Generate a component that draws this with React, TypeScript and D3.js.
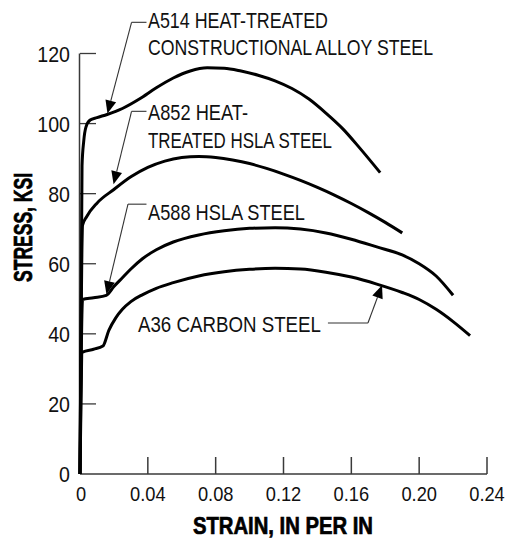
import React from "react";
import * as d3 from "d3";

// ---- data (strain in/in, stress ksi) ----
const A514_STRAIN = [0, 0.0012, 0.0022, 0.0035, 0.006, 0.01, 0.016, 0.025, 0.035, 0.045, 0.055, 0.065, 0.075, 0.085, 0.095, 0.105, 0.115, 0.125, 0.135, 0.145, 0.155, 0.165, 0.177];
const A514_STRESS = [0, 88, 95, 99, 101, 101.7, 102.6, 104.3, 107, 110.2, 113, 115, 115.9, 115.8, 115, 113.8, 112.2, 110, 107, 103, 98.5, 93, 86];

const A852_STRAIN = [0, 0.0015, 0.004, 0.01, 0.02, 0.03, 0.04, 0.05, 0.06, 0.07, 0.08, 0.09, 0.1, 0.11, 0.12, 0.13, 0.14, 0.15, 0.16, 0.17, 0.18, 0.19];
const A852_STRESS = [0, 71, 73.5, 77.3, 81.2, 84.8, 87.5, 89.3, 90.3, 90.6, 90.3, 89.6, 88.6, 87.2, 85.6, 83.8, 81.8, 79.6, 77.2, 74.6, 71.8, 68.8];

const A588_STRAIN = [0, 0.0015, 0.008, 0.0155, 0.02, 0.025, 0.03, 0.037, 0.045, 0.055, 0.07, 0.085, 0.1, 0.115, 0.13, 0.145, 0.16, 0.175, 0.19, 0.2, 0.21, 0.22];
const A588_STRESS = [0, 49.8, 50.3, 51, 53.5, 56, 58.5, 61.5, 64, 66.2, 68.2, 69.4, 70.1, 70.3, 69.9, 68.8, 67, 64.8, 62.5, 60, 56.5, 51];

const A36_STRAIN = [0, 0.0015, 0.008, 0.0135, 0.017, 0.021, 0.025, 0.03, 0.037, 0.045, 0.055, 0.07, 0.085, 0.1, 0.115, 0.13, 0.145, 0.16, 0.175, 0.19, 0.2, 0.21, 0.22, 0.23];
const A36_STRESS = [0, 34.8, 35.6, 36.5, 41, 44.5, 47, 49.2, 51.2, 53, 54.6, 56.5, 57.7, 58.4, 58.7, 58.5, 57.6, 56.2, 54.2, 51.8, 49.8, 47, 43.5, 39.5];

const X_TICKS = [0, 0.04, 0.08, 0.12, 0.16, 0.2, 0.24];
const X_TICK_LABELS = ["0", "0.04", "0.08", "0.12", "0.16", "0.20", "0.24"];
const Y_TICKS = [0, 20, 40, 60, 80, 100, 120];
const Y_TICK_LABELS = ["0", "20", "40", "60", "80", "100", "120"];

const X_TITLE = "STRAIN, IN PER IN";
const Y_TITLE = "STRESS, KSI";

// annotation labels (lines), anchored in data units
const ANN_LINES = [
  ["A514 HEAT-TREATED", "CONSTRUCTIONAL ALLOY STEEL"],
  ["A852 HEAT-", "TREATED HSLA STEEL"],
  ["A588 HSLA STEEL"],
  ["A36 CARBON STEEL"],
];
const ANN_TEXT_X = [0.0401, 0.0401, 0.0401, 0.0342];
const ANN_TEXT_Y = [[127.2, 119.5], [101, 93], [72.5], [40.5]];
const ANN_ELBOW_X = [0.0304, 0.0304, 0.0283, 0.1698];
const ANN_ELBOW_Y = [128.9, 103.5, 77.0, 43.1];
const ANN_HOOK_X = [0.0392, 0.0392, 0.0392, 0.1462];
const ANN_TIP_X = [0.0162, 0.0198, 0.0156, 0.1781];
const ANN_TIP_Y = [102.9, 82.7, 51.3, 53.9];
const ANN_WIDTHS = [[180, 285], [100, 184], [157], [183]];

const W = 508;
const H = 539;
const FONT = "'Liberation Sans', Arial, Helvetica, sans-serif";
const COND = 0.87; // horizontal condensing of the light condensed face

export default function App() {
  const x = d3.scaleLinear().domain([0, 0.24]).range([80, 487]);
  const y = d3.scaleLinear().domain([0, 120]).range([474, 53.5]);

  const line = d3
    .line<[number, number]>()
    .x((d) => x(d[0]))
    .y((d) => y(d[1]))
    .curve(d3.curveMonotoneX);

  const series = [
    [A514_STRAIN, A514_STRESS],
    [A852_STRAIN, A852_STRESS],
    [A588_STRAIN, A588_STRESS],
    [A36_STRAIN, A36_STRESS],
  ];

  const axisColor = "#3a3a3a";

  return (
    <svg
      width={W}
      height={H}
      viewBox={`0 0 ${W} ${H}`}
      style={{ position: "absolute", left: 0, top: 0, background: "#fff" }}
    >
      <rect x={0} y={0} width={W} height={H} fill="#fff" />
      {/* y axis */}
      <line x1={x(0) - 0.5} x2={x(0) - 0.5} y1={y(0)} y2={y(120)} stroke={axisColor} strokeWidth={1.5} />
      {Y_TICKS.filter((t) => t > 0).map((t) => (
        <line key={"yt" + t} x1={x(0)} x2={x(0) + 16} y1={y(t)} y2={y(t)} stroke={axisColor} strokeWidth={1.3} />
      ))}
      {Y_TICKS.map((t, i) => (
        <text
          key={"yl" + t}
          transform={`translate(70,${y(t)}) scale(${COND},1)`}
          textAnchor="end"
          dominantBaseline="central"
          fontFamily={FONT}
          fontSize={22.5}
          fill="#111"
        >
          {Y_TICK_LABELS[i]}
        </text>
      ))}
      {/* x axis */}
      <line x1={x(0)} x2={x(0.24)} y1={y(0)} y2={y(0)} stroke={axisColor} strokeWidth={1.6} />
      {X_TICKS.filter((t) => t > 0).map((t) => (
        <line key={"xt" + t} x1={x(t)} x2={x(t)} y1={y(0)} y2={y(0) - 17} stroke={axisColor} strokeWidth={1.5} />
      ))}
      {X_TICKS.map((t, i) => (
        <text
          key={"xl" + t}
          transform={`translate(${x(t) + (t === 0 ? 1 : 0)},500.5) scale(${COND},1)`}
          textAnchor="middle"
          fontFamily={FONT}
          fontSize={21}
          fill="#111"
        >
          {X_TICK_LABELS[i]}
        </text>
      ))}
      {/* titles */}
      <text
        x={283}
        y={534}
        textAnchor="middle"
        fontFamily={FONT}
        fontWeight="bold"
        fontSize={24}
        textLength={180}
        lengthAdjust="spacingAndGlyphs"
        fill="#000"
        stroke="#000"
        strokeWidth={0.7}
      >
        {X_TITLE}
      </text>
      <text
        transform="translate(32,227.5) rotate(-90)"
        textAnchor="middle"
        fontFamily={FONT}
        fontWeight="bold"
        fontSize={25}
        textLength={109}
        lengthAdjust="spacingAndGlyphs"
        fill="#000"
        stroke="#000"
        strokeWidth={0.7}
      >
        {Y_TITLE}
      </text>
      {/* curves */}
      {series.map(([xs, ys], i) => (
        <path
          key={"s" + i}
          d={line(xs.map((v, j) => [v, ys[j]] as [number, number])) || ""}
          fill="none"
          stroke="#000"
          strokeWidth={3}
          strokeLinejoin="round"
        />
      ))}
      {/* annotations */}
      {ANN_LINES.map((lines, i) => {
        const ex = x(ANN_ELBOW_X[i]);
        const ey = y(ANN_ELBOW_Y[i]);
        const hx = x(ANN_HOOK_X[i]);
        const tx = x(ANN_TIP_X[i]);
        const ty = y(ANN_TIP_Y[i]);
        const dx = tx - ex;
        const dy = ty - ey;
        const len = Math.sqrt(dx * dx + dy * dy);
        const ux = dx / len;
        const uy = dy / len;
        const headL = 13;
        const headW = 5.5;
        const bx = tx - ux * headL;
        const by = ty - uy * headL;
        const pts = [
          [tx, ty],
          [bx - uy * headW, by + ux * headW],
          [bx + uy * headW, by - ux * headW],
        ]
          .map((p) => p.join(","))
          .join(" ");
        return (
          <g key={"a" + i}>
            <line x1={hx} x2={ex} y1={ey} y2={ey} stroke="#333" strokeWidth={1.1} />
            <line x1={ex} y1={ey} x2={bx} y2={by} stroke="#333" strokeWidth={1.1} />
            <polygon points={pts} fill="#000" />
            {lines.map((s, k) => (
              <text
                key={k}
                x={x(ANN_TEXT_X[i])}
                y={y(ANN_TEXT_Y[i][k])}
                fontFamily={FONT}
                fontSize={22}
                textLength={ANN_WIDTHS[i][k]}
                lengthAdjust="spacingAndGlyphs"
                fill="#111"
              >
                {s}
              </text>
            ))}
          </g>
        );
      })}
    </svg>
  );
}
